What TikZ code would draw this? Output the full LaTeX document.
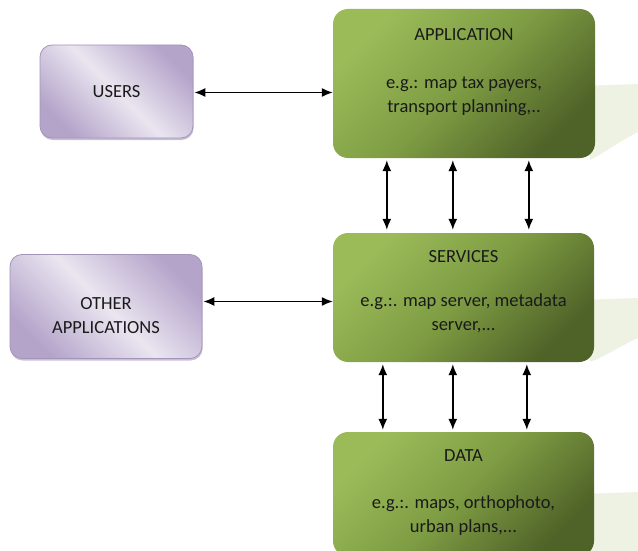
\documentclass[tikz,border=0pt]{standalone}
\usepackage{fontspec}
\setmainfont{Carlito}
\usetikzlibrary{arrows.meta,calc,shadows}
\definecolor{gL}{HTML}{9BBB59}
\definecolor{gM}{HTML}{7E9C43}
\definecolor{gD}{HTML}{4F6228}
\definecolor{pL}{HTML}{EAE5F0}
\definecolor{pD}{HTML}{B4A4CA}
\definecolor{pB}{HTML}{A394BA}
\definecolor{shg}{HTML}{EDF2E2}
\definecolor{txtc}{HTML}{1A1A1A}
\begin{document}
\begin{tikzpicture}[x=1pt,y=-1pt,
  greenbox/.style={rounded corners=15pt, inner sep=0pt, draw=none,
    top color=gL, bottom color=gD, middle color=gM, shading angle=45},
  purplebox/.style={rounded corners=12pt, inner sep=0pt, draw=pB, line width=0.8pt,
    top color=pD, bottom color=pD, middle color=pL, shading angle=-45,
    drop shadow={shadow xshift=0.6pt, shadow yshift=-2pt, opacity=0.6, fill=pB}},
  txt/.style={font=\fontsize{18.5}{24}\selectfont, text=txtc, align=center, inner sep=0pt},
  arr/.style={line width=1.4pt, {Latex[length=11pt,width=9pt]}-{Latex[length=11pt,width=9pt]}}]
\useasboundingbox (0,0) rectangle (638,551);
% light green shadows
\fill[shg] (580,86) -- (638,84) -- (638,132) .. controls (618,142) and (606,152) .. (590,160) -- cycle;
\fill[shg] (580,300) -- (638,298) -- (638,338) .. controls (620,346) and (606,356) .. (590,362) -- cycle;
\fill[shg] (580,494) -- (638,492) -- (638,551) -- (590,551) -- cycle;
% boxes
\node[greenbox, minimum width=262pt, minimum height=149pt] (app) at (464,83.5) {};
\node[greenbox, minimum width=261pt, minimum height=129pt] (serv) at (463.5,297.5) {};
\node[greenbox, minimum width=261pt, minimum height=124pt] (data) at (463.5,494) {};
\node[purplebox, minimum width=153pt, minimum height=93pt] (users) at (116.5,91.5) {};
\node[purplebox, minimum width=192pt, minimum height=104pt] (other) at (106,306.5) {};
% texts
\node[txt] (apptitle) at ($(app.north)+(0,26)$) {APPLICATION};
\node[txt] (appbody) at ($(app.north)+(0,87)$) {e.g.: map tax payers,\\transport planning,..};
\node[txt] (servtitle) at ($(serv.north)+(0,24)$) {SERVICES};
\node[txt] (servbody) at ($(serv.north)+(0,80)$) {e.g.:. map server, metadata\\server,...};
\node[txt] (datatitle) at ($(data.north)+(0,24)$) {DATA};
\node[txt] (databody) at ($(data.north)+(0,84)$) {e.g.:. maps, orthophoto,\\urban plans,...};
\node[txt] (userstext) at (users.center) {USERS};
\node[txt] (othertext) at ($(other.center)+(0,9)$) {OTHER\\APPLICATIONS};
% connectors
\draw[arr] ($(users.east)+(1,1)$) -- ($(users.east -| app.west)+(0,1)$);
\draw[arr] ($(other.east)+(1,-5)$) -- ($(other.east -| serv.west)+(0,-5)$);
\foreach \dx in {54,120,196} {
  \draw[arr] ($(app.south west)+(\dx,2)$) -- ($(serv.north west)+(\dx,-3)$);
}
\foreach \dx in {50,120,194} {
  \draw[arr] ($(serv.south west)+(\dx,2)$) -- ($(data.north west)+(\dx,-2)$);
}
\end{tikzpicture}
\end{document}
